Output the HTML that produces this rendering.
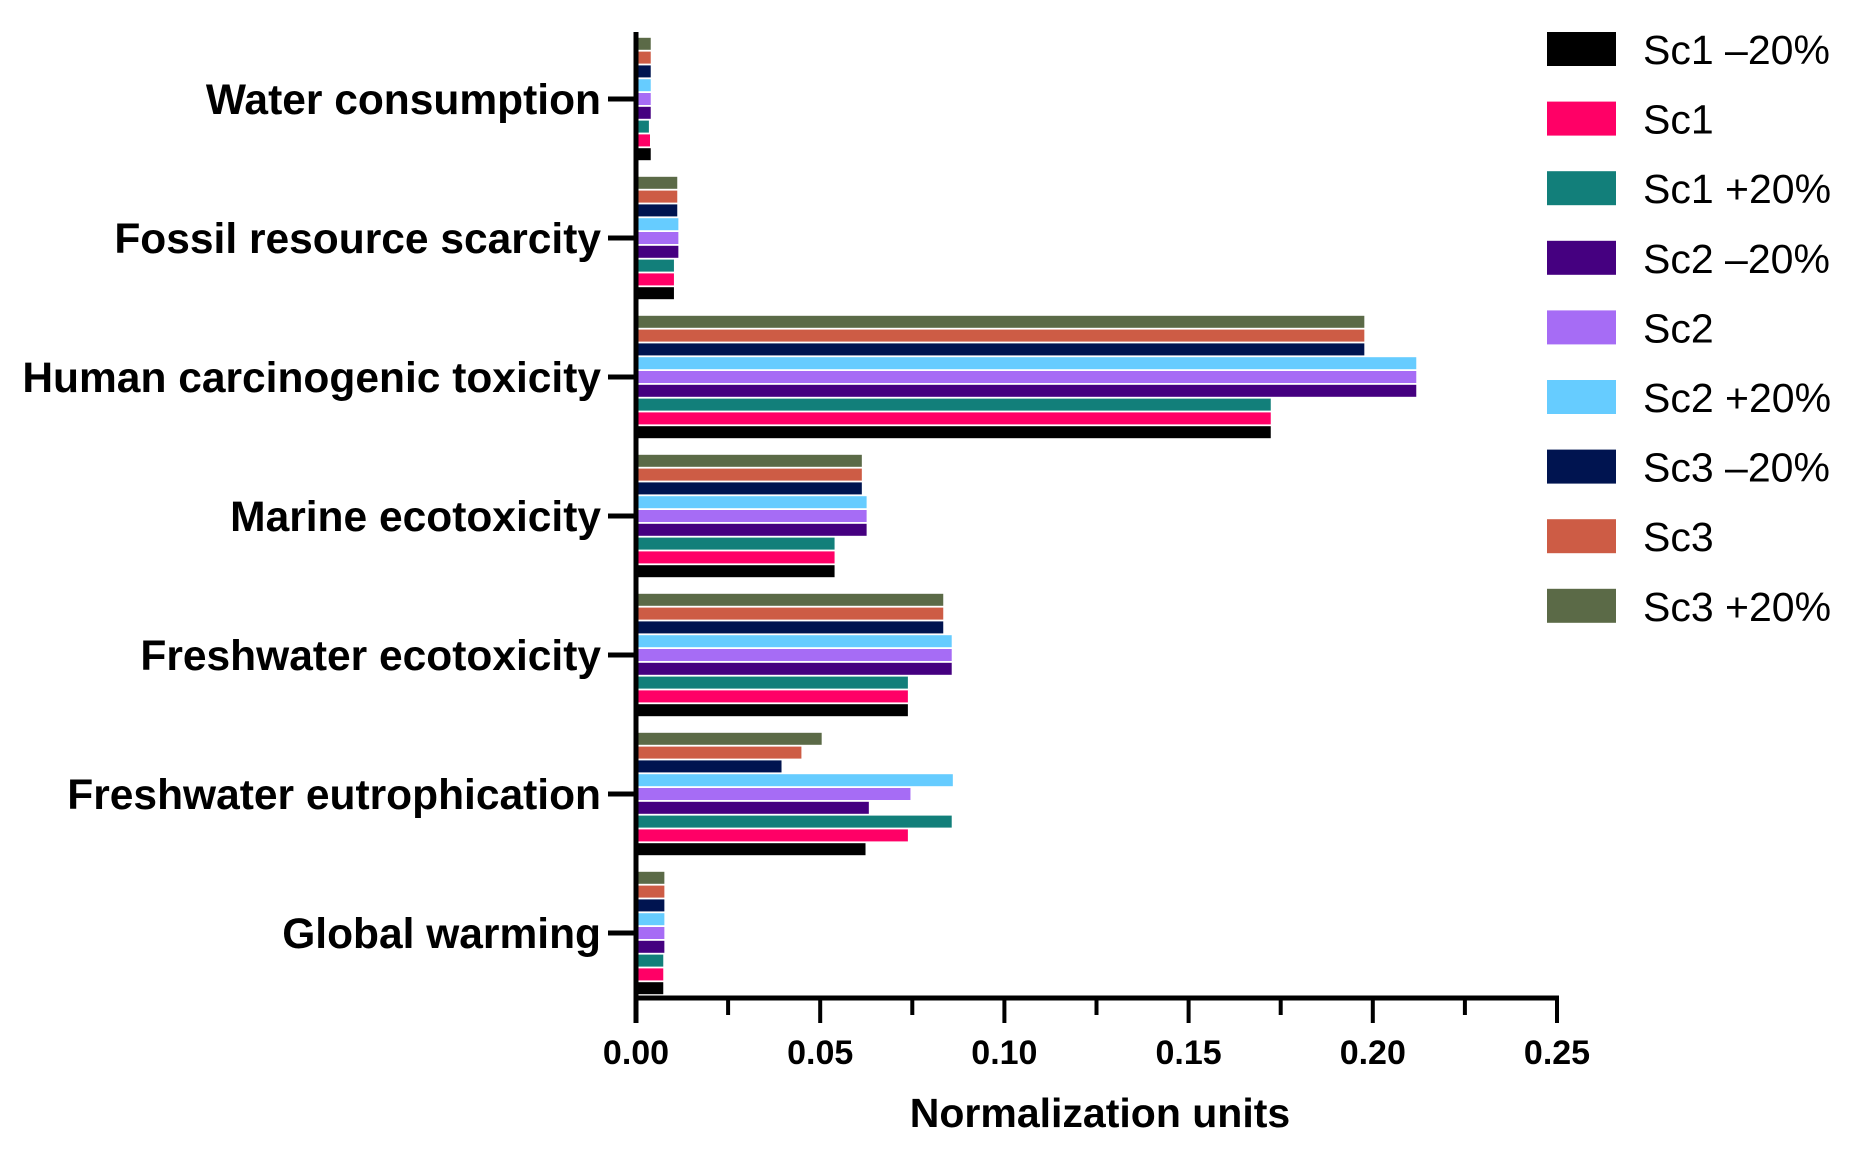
<!DOCTYPE html>
<html><head><meta charset="utf-8"><style>
body{margin:0;background:#fff;}
svg text{font-family:"Liberation Sans",Arial,sans-serif;}
</style></head><body>
<svg id="chart" width="1854" height="1147" viewBox="0 0 1854 1147" xmlns="http://www.w3.org/2000/svg"></svg>
<script>
const categories=["Water consumption","Fossil resource scarcity","Human carcinogenic toxicity","Marine ecotoxicity","Freshwater ecotoxicity","Freshwater eutrophication","Global warming"];
const seriesNames=["Sc1 \u201320%","Sc1","Sc1 +20%","Sc2 \u201320%","Sc2","Sc2 +20%","Sc3 \u201320%","Sc3","Sc3 +20%"];
const sc1m20=[0.0040,0.0103,0.1723,0.0539,0.0738,0.0623,0.0074];
const sc1=[0.0038,0.0103,0.1723,0.0539,0.0738,0.0738,0.0074];
const sc1p20=[0.0035,0.0103,0.1723,0.0539,0.0738,0.0857,0.0074];
const sc2m20=[0.0040,0.0115,0.2118,0.0626,0.0857,0.0632,0.0077];
const sc2=[0.0040,0.0115,0.2118,0.0626,0.0857,0.0745,0.0077];
const sc2p20=[0.0040,0.0115,0.2118,0.0626,0.0857,0.0860,0.0077];
const sc3m20=[0.0040,0.0112,0.1977,0.0613,0.0834,0.0395,0.0077];
const sc3=[0.0040,0.0112,0.1977,0.0613,0.0834,0.0449,0.0077];
const sc3p20=[0.0040,0.0112,0.1977,0.0613,0.0834,0.0504,0.0077];
const seriesValues=[sc1m20,sc1,sc1p20,sc2m20,sc2,sc2p20,sc3m20,sc3,sc3p20];
const tickValues=[0,0.05,0.10,0.15,0.20,0.25];
const tickLabels=["0.00","0.05","0.10","0.15","0.20","0.25"];
const colors=["#000000","#ff0066","#127f7a","#450080","#a66cf5","#66ccff","#001450","#cd5c45","#5b6a47"];

const svg=document.getElementById('chart');
const NS="http://www.w3.org/2000/svg";
const X0=636,X1=1557,YTOP=32,YBOT=998;
const x=v=>X0+(v/0.25)*(X1-X0);
const catY=i=>99+i*139.0;
const pitch=13.8,bh=12;
function mk(tag,attrs,txt){const e=document.createElementNS(NS,tag);for(const k in attrs)e.setAttribute(k,attrs[k]);if(txt!==undefined)e.textContent=txt;svg.appendChild(e);return e;}

categories.forEach((c,ci)=>{
  seriesValues.forEach((vals,si)=>{
    const yc=catY(ci)+(4-si)*pitch;
    const r=mk('rect',{x:X0,y:yc-bh/2,width:x(vals[ci])-X0,height:bh,fill:colors[si]});
    
    
  });
  const t=mk('text',{x:601,y:catY(ci)+15,'text-anchor':'end','font-size':42.5,'font-weight':'bold',fill:'#000'},c);
  
  
  const tk=mk('line',{x1:608,x2:636,y1:catY(ci),y2:catY(ci),stroke:'#000','stroke-width':5});
  
  
});
const ya=mk('line',{x1:X0,x2:X0,y1:YTOP,y2:YBOT+2,stroke:'#000','stroke-width':5});


const xa=mk('line',{x1:X0-2,x2:X1+2,y1:YBOT,y2:YBOT,stroke:'#000','stroke-width':5});


for(let i=1;i<=10;i++){
  const v=i*0.025;const major=i%2===0;
  const l=mk('line',{x1:x(v),x2:x(v),y1:YBOT,y2:YBOT+(major?25:17),stroke:'#000','stroke-width':4});
  
  
}
const l0=mk('line',{x1:X0,x2:X0,y1:YBOT,y2:YBOT+25,stroke:'#000','stroke-width':5});


tickValues.forEach((v,i)=>{
  const t=mk('text',{x:x(v),y:1064,'text-anchor':'middle','font-size':34,'font-weight':'bold',fill:'#000'},tickLabels[i]);
  
  
});
const xt=mk('text',{x:1100,y:1127,'text-anchor':'middle','font-size':41,'font-weight':'bold',fill:'#000'},'Normalization units');


seriesNames.forEach((n,i)=>{
  const yc=49+i*69.6;
  const r=mk('rect',{x:1547,y:yc-17,width:69,height:34,fill:colors[i]});
  
  
  const t=mk('text',{x:1643,y:yc+15,'font-size':41,fill:'#000'},n);
  
  
});
</script>
</body></html>
